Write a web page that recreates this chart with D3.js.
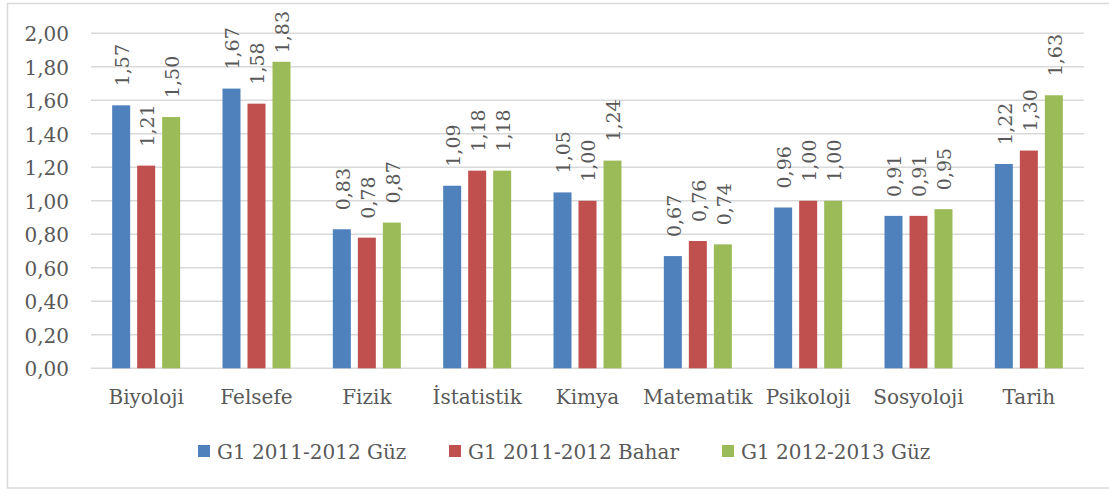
<!DOCTYPE html>
<html><head><meta charset="utf-8">
<script src="https://cdn.jsdelivr.net/npm/d3@7"></script>
<style>body{margin:0;background:#fff}svg{display:block}</style>
</head><body>
<script>
const categories = ["Biyoloji","Felsefe","Fizik","İstatistik","Kimya","Matematik","Psikoloji","Sosyoloji","Tarih"];
const seriesNames = ["G1 2011-2012 Güz","G1 2011-2012 Bahar","G1 2012-2013 Güz"];
const guz1112 = [1.57,1.67,0.83,1.09,1.05,0.67,0.96,0.91,1.22];
const bahar1112 = [1.21,1.58,0.78,1.18,1.00,0.76,1.00,0.91,1.30];
const guz1213 = [1.50,1.83,0.87,1.18,1.24,0.74,1.00,0.95,1.63];
const yTicks = [0,0.2,0.4,0.6,0.8,1.0,1.2,1.4,1.6,1.8,2.0];
const colors = ["#4f81bd","#c0504d","#9bbb59"];
const series = [guz1112, bahar1112, guz1213];

(function(){
const W = 1109, H = 489;
const svg = d3.select("body").append("svg").attr("width", W).attr("height", H);
const font = "DejaVu Serif";
const fs = 20, lfs = 19;
const txt = "#595959";
svg.append("rect").attr("x",7.5).attr("y",3.5).attr("width",1110).attr("height",484.5)
  .attr("fill","#fff").attr("stroke","#d9d9d9").attr("stroke-width",1.5);

const pL = 91, pR = 1084, pT = 33.3, pB = 368.3;
const y = d3.scaleLinear().domain([0,2]).range([pB, pT]);
const x0 = d3.scaleBand().domain(categories).range([pL, pR]).paddingInner(0).paddingOuter(0);
const groupW = 68;
const x1 = d3.scaleBand().domain([0,1,2]).range([0, groupW]).paddingInner(0.28).paddingOuter(0);
const groupOffset = (x0.bandwidth() - groupW) / 2;

const fmt = v => d3.format(".2f")(v).replace(".", ",");

svg.append("g").selectAll("line").data(yTicks).join("line")
  .attr("x1", pL).attr("x2", pR)
  .attr("y1", d => y(d)).attr("y2", d => y(d))
  .attr("stroke", "#d9d9d9").attr("stroke-width", 1.5);

const yAxis = d3.axisLeft(y).tickValues(yTicks).tickFormat(fmt).tickSize(0).tickPadding(0);
const ga = svg.append("g").attr("transform", `translate(${pL-22},0)`).call(yAxis);
ga.select(".domain").remove();
ga.selectAll("text").attr("font-family", font).attr("font-size", fs).attr("fill", txt).attr("dy","0.36em");

const xAxis = d3.axisBottom(x0).tickSize(0).tickPadding(0);
const gx = svg.append("g").attr("transform", `translate(0,${pB + 21})`).call(xAxis);
gx.select(".domain").remove();
gx.selectAll("text").attr("font-family", font).attr("font-size", fs).attr("fill", txt).attr("dy","0.71em");

series.forEach((vals, si) => {
  const g = svg.append("g");
  g.selectAll("rect").data(vals).join("rect")
    .attr("x", (d,i) => x0(categories[i]) + groupOffset + x1(si))
    .attr("y", d => y(d))
    .attr("width", x1.bandwidth())
    .attr("height", d => y(0) - y(d))
    .attr("fill", colors[si]);
  g.selectAll("text").data(vals).join("text")
    .attr("dy", "0.36em")
    .attr("font-family", font).attr("font-size", lfs).attr("fill", txt)
    .text(d => fmt(d))
    .attr("transform", function(d,i) {
      const cx = x0(categories[i]) + groupOffset + x1(si) + x1.bandwidth()/2 + 1;
      const len = this.getComputedTextLength();
      const yy = Math.max(y(d) - 19, 11 + len);
      return `translate(${cx},${yy}) rotate(-90)`;
    });
});

const legendX = [198, 449, 722];
const lg = svg.append("g");
seriesNames.forEach((n, i) => {
  lg.append("rect").attr("x", legendX[i]).attr("y", 445).attr("width", 12).attr("height", 12).attr("fill", colors[i]);
  lg.append("text").attr("x", legendX[i] + 19).attr("y", 452).attr("dy","0.36em")
    .attr("font-family", font).attr("font-size", fs).attr("fill", txt).text(n);
});
})();
</script>
</body></html>
